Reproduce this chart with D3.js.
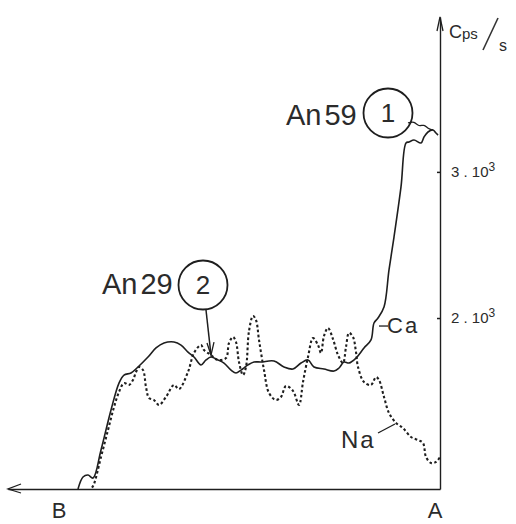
<!DOCTYPE html>
<html><head><meta charset="utf-8">
<script src="https://cdn.jsdelivr.net/npm/d3@7"></script>
<style>
html,body{margin:0;padding:0;background:#fff;}
svg{display:block;}
text{font-family:"Liberation Sans",Arial,sans-serif;fill:#2b2b2b;}
</style></head>
<body>
<script>
// distance from A (arbitrary units, A at 0, B towards the left)
const caDist = [362,357,352,347,339,329,321,316,309,302,292,284,276,266,259,252,246,239,234,229,222,216,209,204,199,192,186,179,166,156,147,139,132,126,116,106,101,96,91,84,76,69,66,62,56,51,46,39,34,31,26,19,16,12,7,4,2];
const caCps  = [830,912,926,905,1097,1371,1555,1610,1624,1665,1733,1795,1829,1836,1815,1767,1733,1679,1713,1733,1713,1692,1644,1624,1644,1679,1699,1699,1706,1665,1651,1692,1713,1665,1651,1637,1658,1699,1692,1726,1795,1850,1966,2000,2075,2329,2554,2897,3198,3205,3218,3198,3239,3273,3287,3266,3252];
const naDist = [348,346,339,332,326,321,316,311,307,304,301,297,294,291,286,281,274,266,261,252,246,239,236,229,222,214,211,207,204,201,197,194,191,187,184,181,176,171,164,159,154,147,141,137,132,127,122,119,116,112,107,102,97,94,91,87,84,82,76,69,64,61,56,51,44,37,29,22,17,14,9,4,0];
const naCps  = [840,864,1049,1234,1391,1494,1555,1542,1576,1631,1665,1644,1528,1453,1439,1405,1460,1542,1514,1631,1761,1815,1781,1747,1713,1726,1829,1870,1836,1699,1610,1665,1911,2014,1986,1850,1644,1487,1439,1460,1535,1501,1405,1562,1733,1863,1815,1761,1877,1932,1856,1747,1692,1802,1898,1870,1767,1665,1562,1542,1596,1576,1460,1350,1282,1247,1186,1165,1145,1049,1008,1015,1049];
const yTicks = [2000, 3000];
const endLabels = [{t:"B", d:381}, {t:"A", d:5}];

const W = 516, H = 524;
const svg = d3.select("body").append("svg").attr("width", W).attr("height", H);

const x = d3.scaleLinear().domain([0, 432]).range([440, 8]);
const y = d3.scaleLinear().domain([830, 4060]).range([489, 17]);
const ink = "#1e1e1e";

// x axis (profile B <- A)
const gx = svg.append("g").attr("transform", `translate(0,${y(830)})`)
  .call(d3.axisBottom(x).tickValues([]).tickSizeOuter(0));
gx.select(".domain").attr("stroke", ink).attr("stroke-width", 1.4);
// y axis
const gy = svg.append("g").attr("transform", `translate(${x(0)},0)`)
  .call(d3.axisRight(y).tickValues(yTicks).tickSizeInner(-3).tickSizeOuter(0).tickPadding(11)
    .tickFormat(v => `${v/1000} . 10`));
gy.select(".domain").attr("stroke", ink).attr("stroke-width", 1.4);
gy.selectAll(".tick line").attr("stroke", ink).attr("stroke-width", 1.5);
gy.selectAll(".tick text").attr("font-family", "'DejaVu Sans',sans-serif").attr("font-size", 15)
  .attr("fill", "#333").attr("font-weight", 300)
  .append("tspan").attr("dy", "-0.55em").attr("font-size", 12).text("3");

// arrowheads on axes
const line = d3.line();
const x0 = x(432), yb = y(830);
svg.append("path").attr("d", line([[x0+13, yb-5],[x0, yb],[x0+13, yb+4]]))
  .attr("fill","none").attr("stroke", ink).attr("stroke-width", 1.3);
const xa = x(0), yt = y(4060);
svg.append("path").attr("d", line([[xa-3, yt+14],[xa, yt],[xa+3, yt+14]]))
  .attr("fill","none").attr("stroke", ink).attr("stroke-width", 1.3);

// axis unit  Cps / s
const unit = svg.append("text").attr("x", 449).attr("y", 38)
  .attr("font-family","'DejaVu Sans',sans-serif").attr("fill","#333");
unit.append("tspan").attr("font-size", 18).text("C");
unit.append("tspan").attr("font-size", 15).attr("dy", 1).text("ps");
svg.append("path").attr("d", line([[483, 50],[498, 18]]))
  .attr("stroke", "#333").attr("stroke-width", 1.6);
svg.append("text").attr("x", 499).attr("y", 51)
  .attr("font-family","'DejaVu Sans',sans-serif").attr("font-size", 16).attr("fill","#333").text("s");

// end labels
svg.selectAll("text.end").data(endLabels).join("text").attr("class","end")
  .attr("x", d => x(d.d)).attr("y", 518).attr("text-anchor","middle")
  .attr("font-size", 22).text(d => d.t);

// curves
const gen = d3.line().x(d => x(d[0])).y(d => y(d[1])).curve(d3.curveCatmullRom.alpha(0.5));
svg.append("path").datum(d3.zip(naDist, naCps)).attr("d", gen)
  .attr("fill","none").attr("stroke", ink).attr("stroke-width", 2.1).attr("stroke-dasharray","2.6,2.4");
svg.append("path").datum(d3.zip(caDist, caCps)).attr("d", gen)
  .attr("fill","none").attr("stroke", ink).attr("stroke-width", 1.6);

// series labels with leaders
svg.append("path").attr("d", line([[x(62)+1, y(2000)+8],[x(62)+10, y(2000)+8]]))
  .attr("stroke", ink).attr("stroke-width", 1.3);
svg.append("text").attr("x", 387).attr("y", 333).attr("font-size", 22).attr("letter-spacing", 2).text("Ca");
svg.append("path").attr("d", line([[378, 433],[x(44)-1, y(1282)+1]]))
  .attr("stroke", ink).attr("stroke-width", 1.3).attr("fill","none");
svg.append("text").attr("x", 341).attr("y", 448).attr("font-size", 24).attr("letter-spacing", 2).text("Na");

// point annotations
function marker(label, num, tx, ty, cx, cy) {
  const t = svg.append("text").attr("x", tx).attr("y", ty).attr("font-size", 29);
  t.append("tspan").text("An");
  t.append("tspan").attr("dx", 3).text(label);
  svg.append("circle").attr("cx", cx).attr("cy", cy).attr("r", 24.5)
    .attr("fill","none").attr("stroke", ink).attr("stroke-width", 1.8);
  svg.append("text").attr("x", cx).attr("y", cy + 9).attr("text-anchor","middle")
    .attr("font-size", 26).text(num);
}
marker("29", "2", 102, 294, 203, 285);
marker("59", "1", 286, 125, 388, 113);

// arrow from (2) to the Ca curve
const tip2 = [x(229), y(1733) - 2];
svg.append("path").attr("d", line([[206, 310], tip2]))
  .attr("stroke", ink).attr("stroke-width", 1.5).attr("fill","none");
svg.append("path").attr("d", line([[tip2[0]-4, tip2[1]-12], tip2, [tip2[0]+3, tip2[1]-13]]))
  .attr("stroke", ink).attr("stroke-width", 1.3).attr("fill","none");
// squiggle from (1) to the Ca plateau
const tip1 = [x(7), y(3287)];
svg.append("path").attr("d", d3.line().curve(d3.curveBasis)([[408,123],[414,121],[419,127],[424,124],[428,129],tip1]))
  .attr("stroke", ink).attr("stroke-width", 1.3).attr("fill","none");
</script>
</body></html>
